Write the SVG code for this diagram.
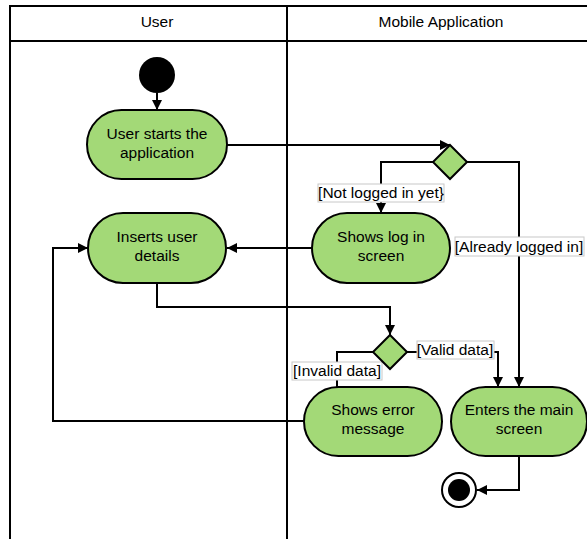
<svg xmlns="http://www.w3.org/2000/svg" width="587" height="539" viewBox="0 0 587 539">
<defs>
<style>
.lane{fill:none;stroke:#000;stroke-width:2}
.node{fill:#a3d977;stroke:#000;stroke-width:2}
.t{font-family:"Liberation Sans",Arial,sans-serif;font-size:15.5px;fill:#000;text-anchor:middle}
.c{fill:none;stroke:#000;stroke-width:2}
.lbl{fill:#fff;stroke:#c8c8c8;stroke-width:1}
</style>
<marker id="arr" viewBox="0 0 10 10" refX="10" refY="5" markerWidth="10" markerHeight="10" markerUnits="userSpaceOnUse" orient="auto">
<path d="M0,0 L10,5 L0,10 Z" fill="#000"/>
</marker>
</defs>
<rect width="587" height="539" fill="#fff"/>
<g id="lanes">
<path class="lane" d="M10,539 V6 H590 M10,41 H590 M287,6 V539"/>
<text class="t" x="157" y="27">User</text>
<text class="t" x="441" y="27">Mobile Application</text>
</g>
<g id="connectors">
<path class="c" d="M157,93 V110" marker-end="url(#arr)"/>
<path class="c" d="M227,145 H450" marker-end="url(#arr)"/>
<path class="c" d="M433,162 H381 V213" marker-end="url(#arr)"/>
<path class="c" d="M467,162 H519 V387" marker-end="url(#arr)"/>
<path class="c" d="M312,248 H227" marker-end="url(#arr)"/>
<path class="c" d="M157,283 V307 H390 V335" marker-end="url(#arr)"/>
<path class="c" d="M373,352 H337 V387"/>
<path class="c" d="M407,352 H498 V387" marker-end="url(#arr)"/>
<path class="c" d="M304,421 H53 V248 H88" marker-end="url(#arr)"/>
<path class="c" d="M519,456 V490 H477" marker-end="url(#arr)"/>
<rect class="lbl" x="318" y="184" width="126" height="18"/>
<text class="t" x="381" y="198">[Not logged in yet}</text>
<rect class="lbl" x="455" y="237" width="129" height="19"/>
<text class="t" x="519" y="252">[Already logged in]</text>
<rect class="lbl" x="292" y="362" width="90" height="18"/>
<text class="t" x="337" y="376">[Invalid data]</text>
<rect class="lbl" x="417" y="341" width="77" height="18"/>
<text class="t" x="455" y="355">[Valid data]</text>
</g>
<g id="start"><circle cx="157" cy="75" r="18" fill="#000"/></g>
<g id="n1"><rect class="node" x="87" y="110" width="140" height="69" rx="34.5"/>
<text class="t" x="157" y="139">User starts the</text><text class="t" x="157" y="158">application</text></g>
<g id="d1"><path class="node" d="M450,145 L467,162 L450,179 L433,162 Z"/></g>
<g id="n2"><rect class="node" x="312" y="213" width="138" height="70" rx="35"/>
<text class="t" x="381" y="242">Shows log in</text><text class="t" x="381" y="261">screen</text></g>
<g id="n3"><rect class="node" x="88" y="213" width="138" height="70" rx="35"/>
<text class="t" x="157" y="242">Inserts user</text><text class="t" x="157" y="261">details</text></g>
<g id="d2"><path class="node" d="M390,335 L407,352 L390,369 L373,352 Z"/></g>
<g id="n4"><rect class="node" x="304" y="387" width="138" height="69" rx="34.5"/>
<text class="t" x="373" y="415">Shows error</text><text class="t" x="373" y="434">message</text></g>
<g id="n5"><rect class="node" x="451" y="387" width="136" height="69" rx="34.5"/>
<text class="t" x="519" y="415">Enters the main</text><text class="t" x="519" y="434">screen</text></g>
<g id="end"><circle cx="459" cy="490" r="17" fill="#fff" stroke="#000" stroke-width="2"/><circle cx="459" cy="490" r="11" fill="#000"/></g>
</svg>
